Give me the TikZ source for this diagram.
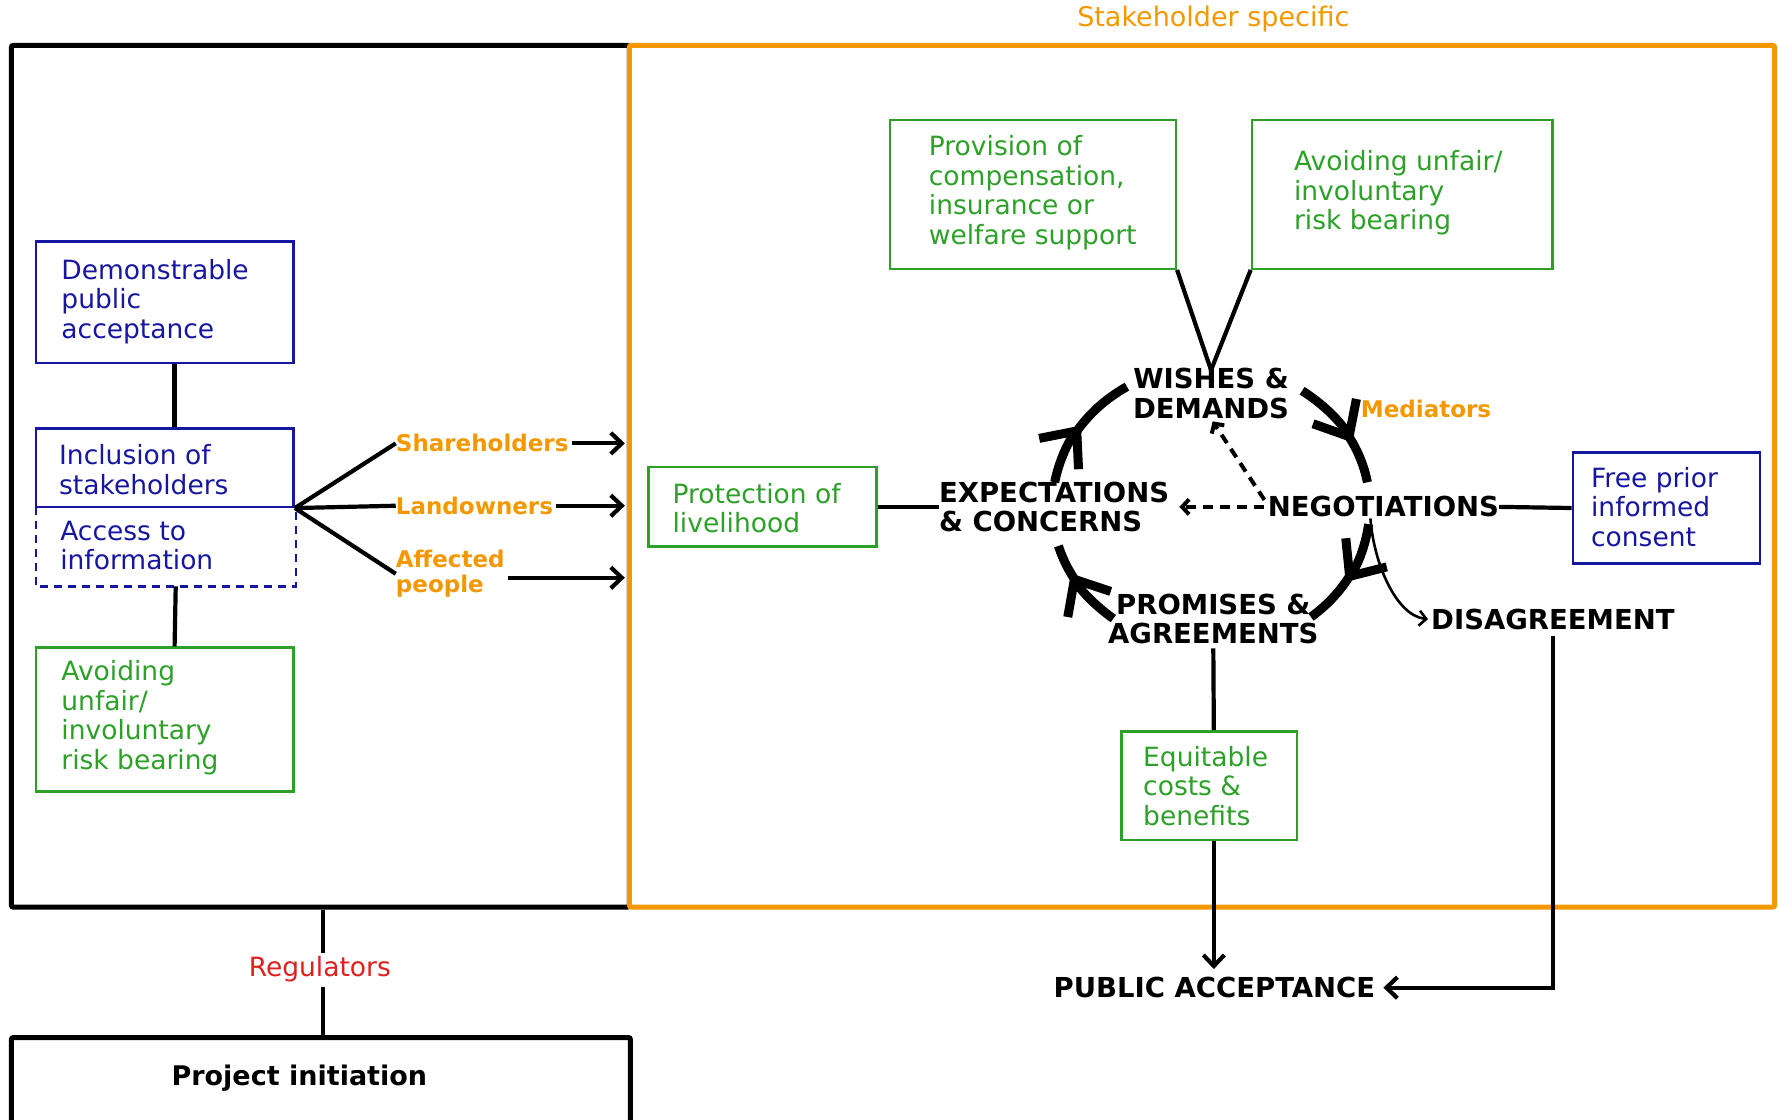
\documentclass[tikz,border=0pt]{standalone}
\usepackage{fontspec}
\setmainfont{DejaVu Sans}
\usetikzlibrary{arrows.meta,fit,calc}
\definecolor{cgreen}{RGB}{45,160,40}
\definecolor{cblue}{RGB}{22,22,160}
\definecolor{corange}{RGB}{243,152,0}
\definecolor{cred}{RGB}{225,30,30}

\begin{document}
\begin{tikzpicture}[x=1.134pt,y=-1.134pt,
  panel/.style={draw, inner sep=0pt, line width=2.4pt},
  gpanel/.style={panel, draw=cgreen},
  bpanel/.style={panel, draw=cblue},
  txt/.style={inner sep=0pt, font=\fontsize{26.5}{29.5}\selectfont, align=left},
  gtxt/.style={txt, text=cgreen},
  btxt/.style={txt, text=cblue},
  cyclabel/.style={inner sep=0pt, font=\fontsize{27.5}{29.5}\selectfont\bfseries, align=center},
  party/.style={inner sep=0pt, font=\fontsize{23}{25}\selectfont\bfseries, text=corange, align=left},
  conn/.style={line width=4.2pt},
  arr/.style={-{Straight Barb[length=11pt,width=21pt]}},
  loopline/.style={line width=9pt},
  looptip/.style={-{Straight Barb[length=29pt,width=50pt]}},
  dashline/.style={line width=4pt, dash pattern=on 10pt off 7pt},
]
\useasboundingbox (0,0) rectangle (1568,987);
\clip (0,0) rectangle (1568,987);

% ---- frames ----
\node[draw=black, line width=5pt, inner sep=0pt, rounded corners=2pt, fit={(10,40)(555,800)}] (outer) {};
\node[draw=corange, line width=5pt, inner sep=0pt, rounded corners=2pt, fit={(555,40)(1565,800)}] (stake) {};
\node[text=corange, inner sep=0pt, font=\fontsize{27}{29}\selectfont] (stakelbl) at (1070,17) {Stakeholder specific};

% ---- left column ----
\node[bpanel, fit={(32,213)(259,320)}] (dem) {};
\node[btxt, anchor=west] (demt) at (54,266) {Demonstrable\\public\\acceptance};
\node[bpanel, fit={(32,378)(259,447)}] (inc) {};
\node[btxt, anchor=west] (inct) at (52,414) {Inclusion of\\stakeholders};
\node[inner sep=0pt, fit={(32,447)(261,517)}] (acc) {};
\draw[cblue, line width=2.4pt, dash pattern=on 8pt off 6pt] (acc.north west) -- (acc.south west) -- (acc.south east) -- (acc.north east);
\node[btxt, anchor=west] (acct) at (53,481) {Access to\\information};
\node[gpanel, fit={(32,571)(259,698)}] (avl) {};
\node[gtxt, anchor=west] (avlt) at (54,633) {Avoiding\\unfair/\\involuntary\\risk bearing};

\draw[conn] ([xshift=9.6pt]dem.south) -- ([xshift=9.6pt]inc.north);
\draw[conn] ([xshift=9.6pt]acc.south) -- ([xshift=9.6pt]avl.north);

% ---- stakeholder groups ----
\node[party, anchor=west] (sh) at (349,391) {Shareholders};
\node[party, anchor=west] (lo) at (349,446) {Landowners};
\node[party, anchor=west] (af) at (349,506) {Affected\\people};
\draw[conn] (inc.south east) -- (sh.west);
\draw[conn] (inc.south east) -- (lo.west);
\draw[conn] (inc.south east) -- (af.west);
\draw[conn, arr, shorten <=3pt, shorten >=2pt] (sh.east) -- (sh.east -| stake.west);
\draw[conn, arr, shorten <=3pt, shorten >=2pt] (lo.east) -- (lo.east -| stake.west);
\draw[conn, arr, shorten <=3pt, shorten >=2pt] ([yshift=-4pt]af.east) -- ([yshift=-4pt]af.east -| stake.west);

% ---- regulators and project initiation ----
\node[text=cred, inner sep=0pt, font=\fontsize{26.5}{29}\selectfont] (reg) at (282,855) {Regulators};
\node[draw=black, line width=5pt, inner sep=0pt, rounded corners=2pt, fit={(10,915)(556,1010)}] (proj) {};
\node[inner sep=0pt, font=\fontsize{27}{29}\selectfont\bfseries] (projt) at (264,951) {Project initiation};
\draw[conn] ([xshift=3pt]reg.north |- outer.south) -- ([xshift=3pt,yshift=4pt]reg.north);
\draw[conn] ([xshift=3pt,yshift=-4pt]reg.south) -- ([xshift=3pt]reg.south |- proj.north);

% ---- negotiation cycle ----
\node[cyclabel] (wd) at (1068,347) {WISHES \&\\DEMANDS};
\node[cyclabel, align=left, anchor=west] (exp) at (828,447) {EXPECTATIONS\\\& CONCERNS};
\node[cyclabel] (neg) at (1220,447) {NEGOTIATIONS};
\node[cyclabel] (pa) at (1070,546) {PROMISES \&\\AGREEMENTS};
\node[cyclabel, anchor=west] (dis) at (1262,546) {DISAGREEMENT};
\node[party, anchor=west] (med) at (1200,361) {Mediators};
\node[cyclabel] (pub) at (1071,871) {PUBLIC ACCEPTANCE};

\coordinate (cc) at (1068,447);
% wishes -> negotiations
\draw[loopline, looptip] (cc) ++(-55:140 and 125) arc[start angle=-55, end angle=-27, x radius=140, y radius=125];
\draw[loopline] (cc) ++(-31:140 and 125) arc[start angle=-31, end angle=-10, x radius=140, y radius=125];
% negotiations -> promises
\draw[loopline, looptip] (cc) ++(7:140 and 125) arc[start angle=7, end angle=32, x radius=140, y radius=125];
\draw[loopline] (cc) ++(28:140 and 125) arc[start angle=28, end angle=51, x radius=140, y radius=125];
% promises -> expectations
\draw[loopline, looptip] (cc) ++(128:140 and 125) arc[start angle=128, end angle=152, x radius=140, y radius=125];
\draw[loopline] (cc) ++(148:140 and 125) arc[start angle=148, end angle=164, x radius=140, y radius=125];
% expectations -> wishes
\draw[loopline, looptip] (cc) ++(190:140 and 125) arc[start angle=190, end angle=215, x radius=140, y radius=125];
\draw[loopline] (cc) ++(211:140 and 125) arc[start angle=211, end angle=238, x radius=140, y radius=125];

% feedback from negotiations
\draw[dashline, -{Straight Barb[length=7pt,width=15pt]}, shorten <=4pt, shorten >=10pt] (neg.west) -- (exp.east);
\draw[dashline, -{Straight Barb[length=7pt,width=15pt]}, shorten <=6pt, shorten >=3pt] ([yshift=2pt]neg.west) -- (wd.south);
\draw[line width=2.6pt, -{Straight Barb[length=7pt,width=15pt]}] ([xshift=-13pt,yshift=-1pt]neg.south) .. controls +(3,40) and +(-28,-3) .. ([xshift=-3pt]dis.west);

% ---- right-hand factors ----
\node[gpanel, fit={(785,106)(1037,237)}] (prov) {};
\node[gtxt, anchor=west] (provt) at (819,170) {Provision of\\compensation,\\insurance or\\welfare support};
\node[gpanel, fit={(1104,106)(1369,237)}] (avr) {};
\node[gtxt, anchor=west] (avrt) at (1141,170) {Avoiding unfair/\\involuntary\\risk bearing};
\draw[conn] (prov.south east) -- ([yshift=-2pt]wd.north);
\draw[conn] (avr.south west) -- ([yshift=-2pt]wd.north);

\node[gpanel, fit={(572,412)(773,482)}] (prot) {};
\node[gtxt, anchor=west] (prott) at (593,448) {Protection of\\livelihood};
\draw[conn] (prot.east) -- (exp.west);

\node[bpanel, fit={(1387,399)(1552,497)}] (free) {};
\node[btxt, anchor=west] (freet) at (1403,447) {Free prior\\informed\\consent};
\draw[conn] (neg.east) -- (free.west);

\node[gpanel, fit={(989,645)(1144,741)}] (eq) {};
\node[gtxt, anchor=west] (eqt) at (1008,693) {Equitable\\costs \&\\benefits};
\draw[conn] ([yshift=-4pt]pa.south) -- ([xshift=4.5pt]eq.north);
\draw[conn, arr, shorten >=8pt] ([xshift=4.5pt]eq.south) -- ([xshift=4.5pt]eq.south |- pub.north);
\draw[conn, arr, shorten <=6pt, shorten >=8pt] (dis.south) -- (dis.south |- pub.east) -- (pub.east);
\end{tikzpicture}
\end{document}
